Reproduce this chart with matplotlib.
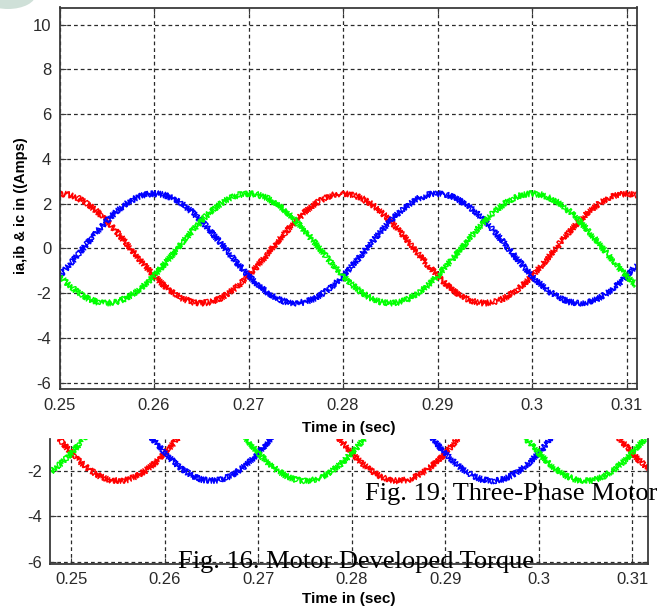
import numpy as np
import matplotlib
matplotlib.use('Agg')
import matplotlib.pyplot as plt
from matplotlib.patches import Ellipse

W, H = 657, 607

plt.rcParams['font.family'] = ['Liberation Sans', 'DejaVu Sans']

# stator phase currents (A), sampled every 1 ms
t_top = np.linspace(0.250, 0.311, 62)
ia_top = [2.45, 2.40, 2.24, 1.98, 1.64, 1.23, 0.76, 0.26, -0.26, -0.76, -1.23, -1.64, -1.98, -2.24, -2.40,
          -2.45, -2.40, -2.24, -1.98, -1.64, -1.23, -0.76, -0.26, 0.26, 0.76, 1.23, 1.64, 1.98, 2.24, 2.40,
          2.45, 2.40, 2.24, 1.98, 1.64, 1.23, 0.76, 0.26, -0.26, -0.76, -1.23, -1.64, -1.98, -2.24, -2.40,
          -2.45, -2.40, -2.24, -1.98, -1.64, -1.23, -0.76, -0.26, 0.26, 0.76, 1.23, 1.64, 1.98, 2.24, 2.40,
          2.45, 2.40]
ib_top = [-1.23, -0.76, -0.26, 0.26, 0.76, 1.23, 1.64, 1.98, 2.24, 2.40,
          2.45, 2.40, 2.24, 1.98, 1.64, 1.23, 0.76, 0.26, -0.26, -0.76, -1.23, -1.64, -1.98, -2.24, -2.40,
          -2.45, -2.40, -2.24, -1.98, -1.64, -1.23, -0.76, -0.26, 0.26, 0.76, 1.23, 1.64, 1.98, 2.24, 2.40,
          2.45, 2.40, 2.24, 1.98, 1.64, 1.23, 0.76, 0.26, -0.26, -0.76, -1.23, -1.64, -1.98, -2.24, -2.40,
          -2.45, -2.40, -2.24, -1.98, -1.64, -1.23, -0.76]
ic_top = [-1.23, -1.64, -1.98, -2.24, -2.40, -2.45, -2.40, -2.24, -1.98, -1.64,
          -1.23, -0.76, -0.26, 0.26, 0.76, 1.23, 1.64, 1.98, 2.24, 2.40,
          2.45, 2.40, 2.24, 1.98, 1.64, 1.23, 0.76, 0.26, -0.26, -0.76, -1.23, -1.64, -1.98, -2.24, -2.40,
          -2.45, -2.40, -2.24, -1.98, -1.64, -1.23, -0.76, -0.26, 0.26, 0.76, 1.23, 1.64, 1.98, 2.24, 2.40,
          2.45, 2.40, 2.24, 1.98, 1.64, 1.23, 0.76, 0.26, -0.26, -0.76, -1.23, -1.64]

t_low = np.linspace(0.247, 0.312, 66)
ia_low = [0.26, -0.26, -0.76, -1.23, -1.64, -1.98, -2.24, -2.40,
          -2.45, -2.40, -2.24, -1.98, -1.64, -1.23, -0.76, -0.26, 0.26, 0.76, 1.23, 1.64, 1.98, 2.24, 2.40,
          2.45, 2.40, 2.24, 1.98, 1.64, 1.23, 0.76, 0.26, -0.26, -0.76, -1.23, -1.64, -1.98, -2.24, -2.40,
          -2.45, -2.40, -2.24, -1.98, -1.64, -1.23, -0.76, -0.26, 0.26, 0.76, 1.23, 1.64, 1.98, 2.24, 2.40,
          2.45, 2.40, 2.24, 1.98, 1.64, 1.23, 0.76, 0.26, -0.26, -0.76, -1.23, -1.64, -1.98]
ib_low = [1.98, 2.24, 2.40, 2.45, 2.40, 2.24, 1.98, 1.64, 1.23, 0.76, 0.26, -0.26, -0.76, -1.23, -1.64,
          -1.98, -2.24, -2.40,
          -2.45, -2.40, -2.24, -1.98, -1.64, -1.23, -0.76, -0.26, 0.26, 0.76, 1.23, 1.64, 1.98, 2.24, 2.40,
          2.45, 2.40, 2.24, 1.98, 1.64, 1.23, 0.76, 0.26, -0.26, -0.76, -1.23, -1.64, -1.98, -2.24, -2.40,
          -2.45, -2.40, -2.24, -1.98, -1.64, -1.23, -0.76, -0.26, 0.26, 0.76, 1.23, 1.64, 1.98, 2.24, 2.40,
          2.45, 2.40, 2.24]
ic_low = [-2.24, -1.98, -1.64, -1.23, -0.76, -0.26, 0.26, 0.76, 1.23, 1.64, 1.98, 2.24, 2.40,
          2.45, 2.40, 2.24, 1.98, 1.64, 1.23, 0.76, 0.26, -0.26, -0.76, -1.23, -1.64, -1.98, -2.24, -2.40,
          -2.45, -2.40, -2.24, -1.98, -1.64, -1.23, -0.76, -0.26, 0.26, 0.76, 1.23, 1.64, 1.98, 2.24, 2.40,
          2.45, 2.40, 2.24, 1.98, 1.64, 1.23, 0.76, 0.26, -0.26, -0.76, -1.23, -1.64, -1.98, -2.24, -2.40,
          -2.45, -2.40, -2.24, -1.98, -1.64, -1.23, -0.76, -0.26]

xticks = [0.25, 0.26, 0.27, 0.28, 0.29, 0.30, 0.31]
xtick_labels = ['0.25', '0.26', '0.27', '0.28', '0.29', '0.3', '0.31']
yticks_top = [-6, -4, -2, 0, 2, 4, 6, 8, 10]
yticks_low = [-6, -4, -2]

phase_colors = ['#ff0000', '#0000ff', '#00ff00']

caption_top = 'Fig. 19. Three-Phase Motor'
caption_low = 'Fig. 16. Motor Developed Torque'


def px_axes(fig, left, top, right, bottom):
    # axes placed by pixel edges (origin top-left)
    return fig.add_axes([left / W, 1 - bottom / H, (right - left) / W, (bottom - top) / H])


def style_axes(ax, xlim, ylim, yticks, show_top=True, xlabel_pad=4):
    ax.set_xlim(*xlim)
    ax.set_ylim(*ylim)
    ax.set_xticks(xticks)
    ax.set_xticklabels(xtick_labels)
    ax.set_yticks(yticks)
    ax.set_yticklabels([str(v) for v in yticks])
    ax.tick_params(direction='in', length=4, width=0.8, top=show_top, right=True,
                   labelsize=12, labelcolor='#2a2a2a', color='#3a3a3a', pad=6)
    ax.grid(True, color='#2a2a2a', linestyle=(0, (3, 2.4)), linewidth=0.9)
    for sp in ax.spines.values():
        sp.set_color('#3a3a3a')
        sp.set_linewidth(1.3)
    if not show_top:
        ax.spines['top'].set_visible(False)
    ax.set_xlabel('Time in (sec)', fontsize=11, fontweight='bold', labelpad=xlabel_pad)


def draw_phases(ax, t, series):
    for y, c in zip(series, phase_colors):
        # two jagged passes give the fuzzy ripple band
        for rnd in (2.5, 4.0):
            line, = ax.plot(t, y, color=c, linewidth=1.0)
            line.set_sketch_params(scale=3.0, length=1.4, randomness=rnd)


fig = plt.figure(figsize=(W / 100, H / 100), dpi=100)

# upper plot
ax1 = px_axes(fig, 59.5, 7.5, 637, 389.3)
draw_phases(ax1, t_top, [ia_top, ib_top, ic_top])
style_axes(ax1, (0.25, 0.3111), (-6.3, 10.77), yticks_top, xlabel_pad=6)
ax1.set_ylabel('ia,ib & ic in ((Amps)', fontsize=10.5, fontweight='bold')
ax1.yaxis.set_label_coords(-0.055, 0.48)

# lower plot, only its negative half is shown
ax2 = px_axes(fig, 50, 439, 648, 564)
draw_phases(ax2, t_low, [ia_low, ib_low, ic_low])
style_axes(ax2, (0.2477, 0.3117), (-6.1, -0.61), yticks_low, show_top=False, xlabel_pad=3)

# captions
fig.text(365 / W, 1 - 500 / H, caption_top, family='Liberation Serif', fontsize=19,
         va='baseline', ha='left', color='black')
fig.text(178 / W, 1 - 568 / H, caption_low, family='Liberation Serif', fontsize=19,
         va='baseline', ha='left', color='black')

# faint corner mark
fig.patches.append(Ellipse((8 / W, 1 + 6 / H), 56 / W, 30 / H, transform=fig.transFigure,
                           facecolor='#cfe0d8', edgecolor='none'))

fig.savefig('out.png', dpi=100)
